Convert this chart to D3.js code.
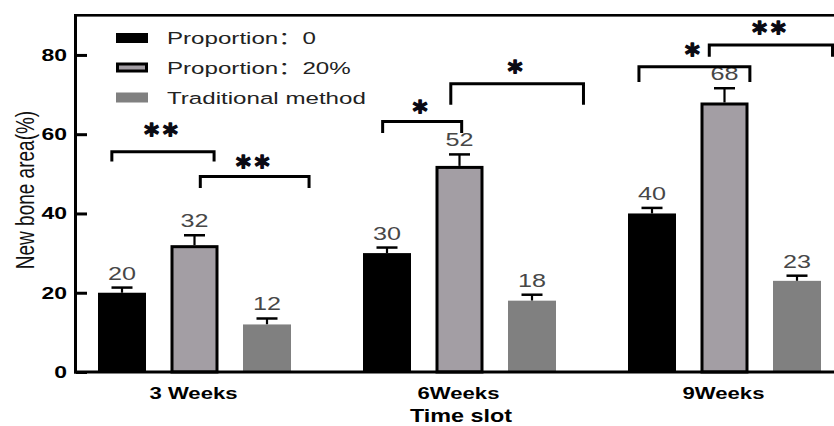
<!DOCTYPE html>
<html>
<head>
<meta charset="utf-8">
<script src="https://cdn.jsdelivr.net/npm/d3@7/dist/d3.min.js"></script>
<style>
  html, body { margin: 0; padding: 0; background: #fff; }
  svg { display: block; }
</style>
</head>
<body>
<svg id="chart" width="834" height="426"></svg>
<script>
// ---- data ----
const groups = ["3 Weeks", "6Weeks", "9Weeks"];
const seriesNames = ["Proportion：0", "Proportion：20%", "Traditional method"];
const prop0 = [20, 30, 40];
const prop20 = [32, 52, 68];
const traditional = [12, 18, 23];
const prop0Err = [1.3, 1.4, 1.4];
const prop20Err = [2.5, 2.9, 3.6];
const traditionalErr = [1.5, 1.5, 1.3];
const yTicks = [0, 20, 40, 60, 80];

// significance brackets: group, start/end slot (0 = first bar), level, leg drop, stars, star level
const bracketGroup = [0, 0, 1, 1, 2, 2];
const bracketFrom = [-0.14, 1.08, -0.06, 0.88, -0.18, 0.79];
const bracketTo = [1.27, 2.58, 1.03, 2.71, 1.35, 2.49];
const bracketLevel = [55.6, 49.3, 63.2, 72.7, 77.0, 82.5];
const bracketDrop = [2.5, 2.9, 2.9, 5.3, 3.8, 2.95];
const bracketStars = ["**", "**", "*", "*", "*", "**"];
const starLevel = [61.0, 53.0, 66.9, 77.0, 81.3, 86.8];

const values = [prop0, prop20, traditional];
const errors = [prop0Err, prop20Err, traditionalErr];

// ---- styles ----
const fills = ["#000000", "#a39ea4", "#808080"];
const strokes = ["none", "#000000", "none"];
const SX = 1.4; // horizontal text stretch
const FONT = "'Liberation Sans', Arial, 'Noto Sans CJK SC', sans-serif";

const svg = d3.select("#chart");

// ---- scales ----
const y = d3.scaleLinear().domain([0, 90]).range([372, 15.3]);
const x0 = d3.scaleBand().domain(groups).range([62, 857]).padding(0);
const xs = d3.scaleBand().domain(d3.range(3)).range([0, 217.5])
  .paddingInner(0.338).paddingOuter(0.169);
const groupInset = (x0.bandwidth() - 217.5) / 2;
const barLeft = d => x0(d.g) + groupInset + xs(d.s);
const barMid = d => barLeft(d) + xs.bandwidth() / 2;
const slotX = (gi, s) => x0(groups[gi]) + x0.bandwidth() / 2 + (s - 1) * xs.step();

// stretched text helper
function stext(parent, x, yy, str, o) {
  const g = parent.append("g").attr("transform", `translate(${x},${yy}) scale(${o.sx || SX},1)`);
  return g.append("text")
    .attr("x", 0).attr("y", 0)
    .attr("text-anchor", o.anchor || "middle")
    .attr("font-family", o.family || FONT)
    .attr("font-size", o.size)
    .attr("font-weight", o.weight || "normal")
    .attr("fill", o.fill || "#000")
    .text(str);
}

// ---- bars ----
const barData = [];
groups.forEach((g, gi) => {
  for (let s = 0; s < 3; s++) {
    barData.push({ g, gi, s, v: values[s][gi], e: errors[s][gi] });
  }
});

const plot = svg.append("g");

// error bars (drawn under the bars)
plot.selectAll("path.err").data(barData).join("path")
  .attr("class", "err")
  .attr("d", d => `M${barMid(d)},${y(d.v)}V${y(d.v + d.e)}`)
  .attr("fill", "none").attr("stroke", "#000").attr("stroke-width", 2.2);
plot.selectAll("path.cap").data(barData).join("path")
  .attr("class", "cap")
  .attr("d", d => `M${barMid(d) - 10.5},${y(d.v + d.e)}H${barMid(d) + 10.5}`)
  .attr("fill", "none").attr("stroke", "#000").attr("stroke-width", 2.5);

plot.selectAll("rect.bar").data(barData).join("rect")
  .attr("class", "bar")
  .attr("x", d => barLeft(d) + (d.s === 1 ? 1.5 : 0))
  .attr("width", d => xs.bandwidth() - (d.s === 1 ? 3 : 0))
  .attr("y", d => y(d.v) + (d.s === 1 ? 1.5 : 0))
  .attr("height", d => y(0) - y(d.v) - (d.s === 1 ? 1.5 : 0))
  .attr("fill", d => fills[d.s])
  .attr("stroke", d => strokes[d.s])
  .attr("stroke-width", 3);

// value labels
barData.forEach(d => {
  stext(plot, barMid(d), y(d.v + d.e) - 8, String(d.v), { size: 18, fill: "#474747" });
});

// ---- axis labels ----
const labelG = svg.append("g");
yTicks.forEach(t => {
  stext(labelG, 67, y(t) + 6, String(t), { size: 17, weight: "bold", anchor: "end", sx: 1.35 });
});
groups.forEach(g => {
  stext(labelG, x0(g) + x0.bandwidth() / 2 - 1, 399, g, { size: 17, weight: "bold", sx: 1.3 });
});
stext(labelG, 461, 421.5, "Time slot", { size: 18, weight: "bold", sx: 1.3 });

// y title (rotated, stretched across its height)
labelG.append("g").attr("transform", `translate(34,190) scale(${SX},1) rotate(-90)`)
  .append("text")
  .attr("text-anchor", "middle")
  .attr("font-family", FONT).attr("font-size", 19).attr("fill", "#111")
  .text("New bone area(%)");

// ---- significance brackets ----
const brG = svg.append("g");
bracketLevel.forEach((lv, i) => {
  const gi = bracketGroup[i];
  const xa = slotX(gi, bracketFrom[i]);
  const xb = slotX(gi, bracketTo[i]);
  const yl = y(lv), yd = y(lv - bracketDrop[i]);
  brG.append("path")
    .attr("d", `M${xa},${yd}V${yl}H${xb}V${yd}`)
    .attr("fill", "none").attr("stroke", "#000").attr("stroke-width", 3);
  stext(brG, (xa + xb) / 2, y(starLevel[i]) + 14, bracketStars[i],
    { size: 28, weight: "bold", sx: 1.0, family: "'DejaVu Sans', sans-serif", fill: "#0a0a14" })
    .attr("letter-spacing", 4)
    .attr("stroke", "#0a0a14").attr("stroke-width", 1.4).attr("stroke-linejoin", "round");
});

// ---- legend ----
const leg = svg.append("g");
const legRows = [38, 67.5, 97.5];
seriesNames.forEach((name, i) => {
  const ry = legRows[i];
  leg.append("rect")
    .attr("x", i === 1 ? 117.5 : 116).attr("y", ry - 5 + (i === 1 ? 1.5 : 0))
    .attr("width", i === 1 ? 29 : 32).attr("height", i === 1 ? 7 : 10)
    .attr("fill", fills[i]).attr("stroke", strokes[i]).attr("stroke-width", 3);
  stext(leg, 167, ry + 6, name, { size: 17, anchor: "start", fill: "#222", sx: 1.42 });
});

// ---- axis frame, drawn on top ----
const axisG = svg.append("g");
axisG.append("rect").attr("x", 74).attr("y", y(90) - 1.3).attr("width", 3)
  .attr("height", y(0) - y(90) + 2.8).attr("fill", "#000");
axisG.append("rect").attr("x", 74).attr("y", y(0) - 1.5).attr("width", 760)
  .attr("height", 3).attr("fill", "#000");
axisG.append("rect").attr("x", 74).attr("y", y(90) - 1.3).attr("width", 760)
  .attr("height", 2.6).attr("fill", "#000");
const yAxis = d3.axisRight(y).tickValues(yTicks).tickSize(11).tickFormat("");
const yAxG = axisG.append("g").attr("transform", "translate(76,0)").call(yAxis);
yAxG.select(".domain").remove();
yAxG.selectAll(".tick line").attr("stroke", "#000").attr("stroke-width", 3);
</script>
</body>
</html>
